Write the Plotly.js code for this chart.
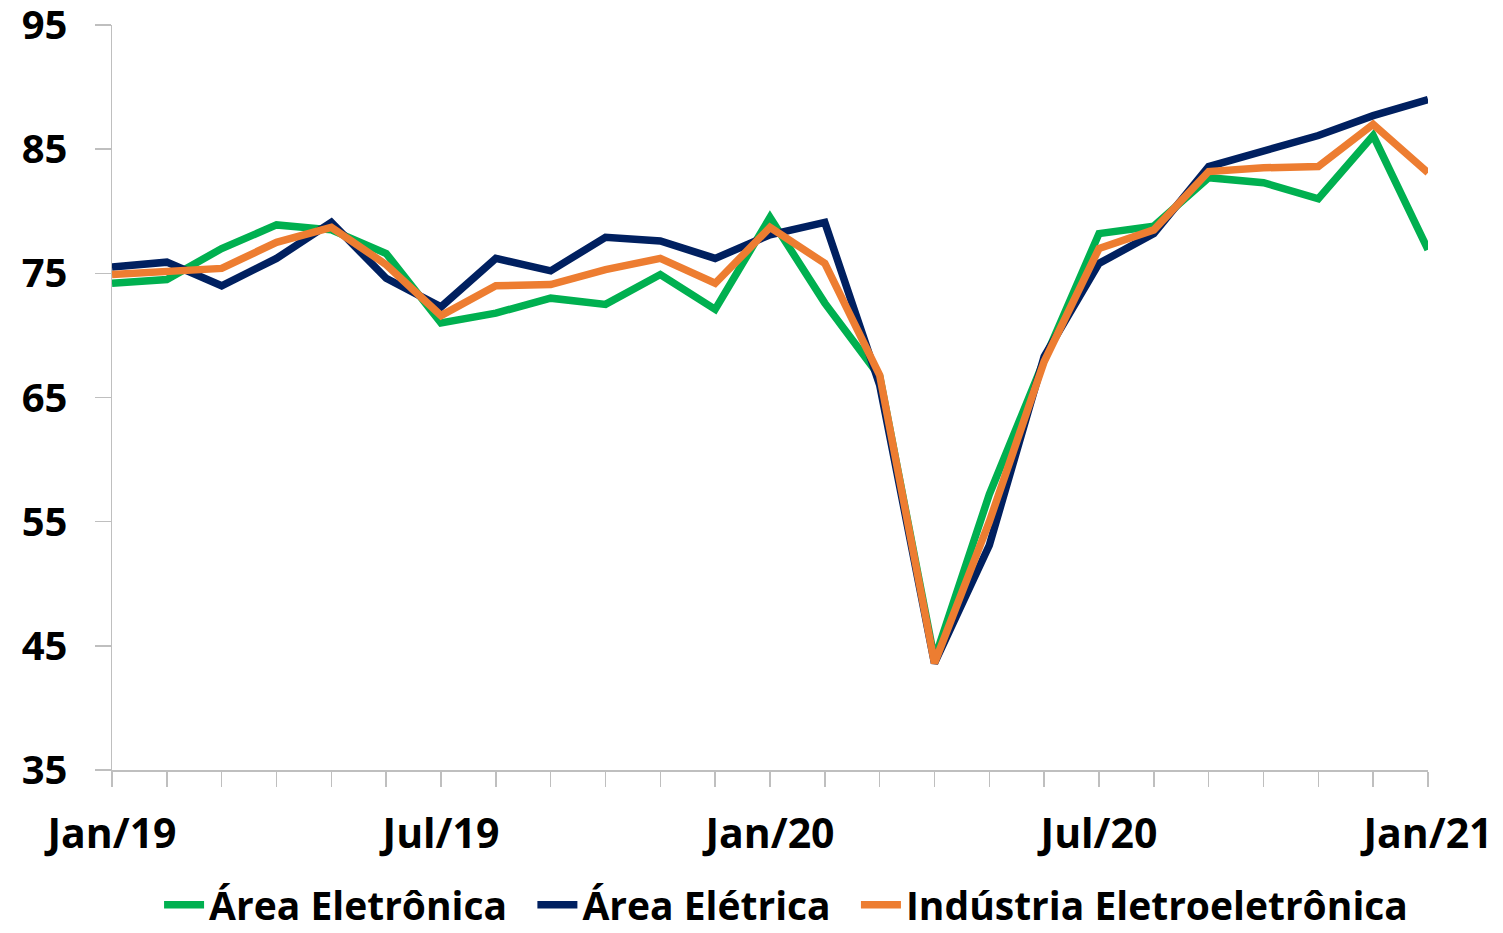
<!DOCTYPE html>
<html>
<head>
<meta charset="utf-8">
<script src="https://cdn.plot.ly/plotly-3.0.1.min.js"></script>
<style>
html,body{margin:0;padding:0;background:#fff;}
#chart{width:1503px;height:933px;}
</style>
</head>
<body>
<div id="chart"></div>
<script>
const months = ["Jan/19","Fev/19","Mar/19","Abr/19","Mai/19","Jun/19","Jul/19","Ago/19","Set/19","Out/19","Nov/19","Dez/19",
  "Jan/20","Fev/20","Mar/20","Abr/20","Mai/20","Jun/20","Jul/20","Ago/20","Set/20","Out/20","Nov/20","Dez/20","Jan/21"];
const tickLabels = ["Jan/19","Jul/19","Jan/20","Jul/20","Jan/21"];

const areaEletronica = [74.2,74.5,77.0,78.9,78.5,76.6,71.0,71.8,73.0,72.5,74.9,72.1,79.5,72.6,66.7,43.9,57.2,68.0,78.2,78.8,82.7,82.3,81.0,86.1,76.9];
const areaEletrica   = [75.5,75.9,74.0,76.2,79.1,74.6,72.3,76.2,75.2,77.9,77.6,76.2,78.1,79.1,66.0,43.6,53.1,68.3,75.8,78.2,83.6,84.8,86.1,87.7,89.0];
const industria      = [74.9,75.2,75.4,77.5,78.7,75.7,71.6,74.0,74.1,75.3,76.2,74.2,78.7,75.8,66.8,43.6,55.0,67.9,77.0,78.5,83.2,83.5,83.6,87.0,83.1];

const seriesNames = ["Área Eletrônica","Área Elétrica","Indústria Eletroeletrônica"];
const seriesColors = ["#00b050","#002060","#ed7d31"];
const seriesData = [areaEletronica, areaEletrica, industria];

const FONT = '"Open Sans", Arial, sans-serif';

const traces = seriesData.map((d,i)=>({
  x: months, y: d, type:'scatter', mode:'lines',
  name: seriesNames[i] + (i < 2 ? '\u00a0\u00a0' : ''),
  line:{color:seriesColors[i], width:7.5}
}));

const layout = {
  width:1503, height:933,
  margin:{l:112, r:75, t:25, b:163},
  paper_bgcolor:'#fff', plot_bgcolor:'#fff',
  showlegend:true,
  legend:{orientation:'h', xref:'container', yref:'container', x:0.523, xanchor:'center', y:0.03, yanchor:'middle',
    font:{family:FONT, size:39, color:'#000', weight:'bold'}, itemwidth:40, tracegroupgap:0},
  xaxis:{type:'category', range:[0,24], tickmode:'array', tickvals:months,
    ticktext: months.map(m => tickLabels.includes(m) ? m : ''),
    ticks:'outside', ticklen:15, tickcolor:'#bfbfbf', tickwidth:1.5,
    showline:true, linecolor:'#bfbfbf', linewidth:1.5, showgrid:false, zeroline:false,
    tickfont:{family:FONT, size:41, color:'#000', weight:'bold'}, ticklabelstandoff:12, tickangle:0,
    ticklabeloverflow:'allow'},
  yaxis:{range:[35,95], tickvals:[35,45,55,65,75,85,95],
    ticks:'outside', ticklen:16, tickcolor:'#bfbfbf', tickwidth:1.5,
    showline:true, linecolor:'#bfbfbf', linewidth:1.5, showgrid:false, zeroline:false,
    tickfont:{family:FONT, size:40, color:'#000', weight:'bold'}, ticklabelstandoff:19,
    ticklabeloverflow:'allow'}
};

Plotly.newPlot('chart', traces, layout, {displayModeBar:false, staticPlot:true});
</script>
</body>
</html>
